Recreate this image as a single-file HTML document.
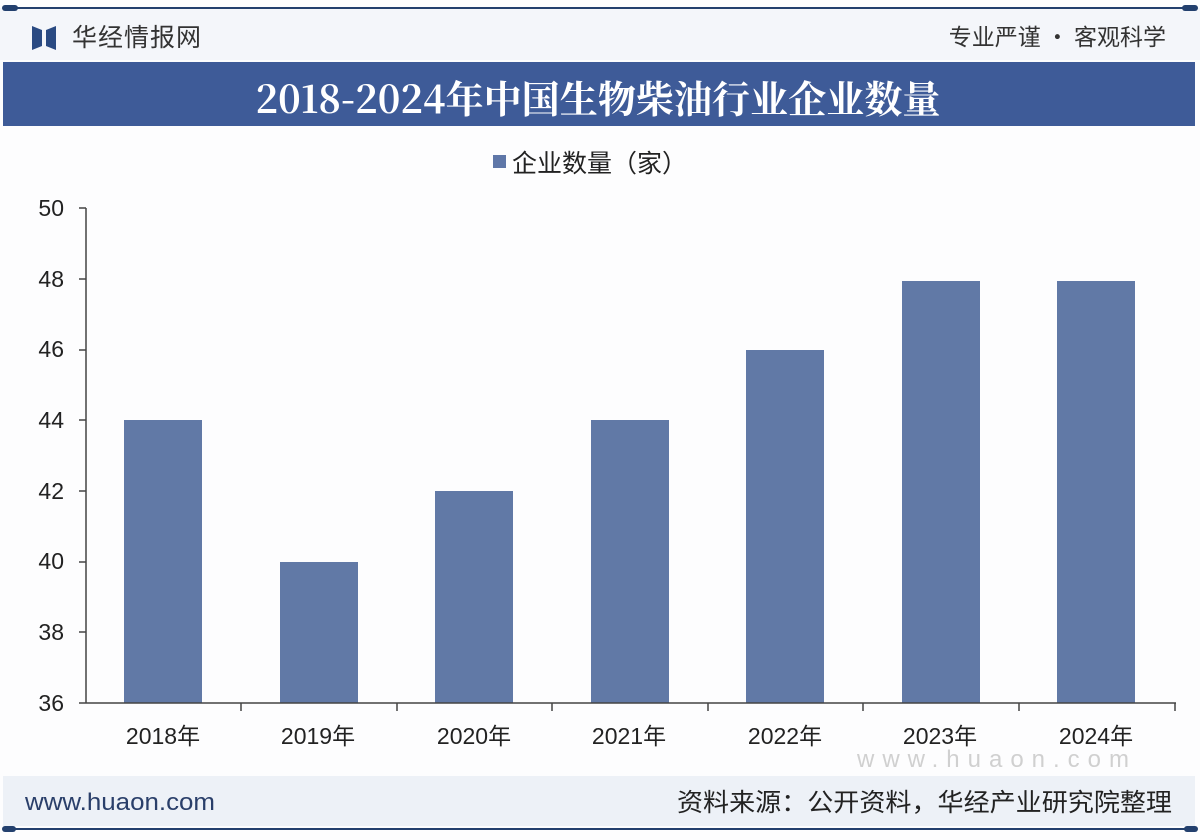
<!DOCTYPE html>
<html><head><meta charset="utf-8"><style>
body{margin:0;width:1200px;height:840px;background:#fff;overflow:hidden;font-family:"Liberation Sans","Noto Sans CJK SC",sans-serif;}
</style></head><body>
<svg width="1200" height="840" xmlns="http://www.w3.org/2000/svg" style="position:absolute;left:0;top:0">
<rect x="0" y="0" width="1200" height="840" fill="#fdfdfe"/>
<rect x="0" y="8" width="1200" height="52" fill="#f4f6fa"/>
<line x1="6" y1="8" x2="1194" y2="8" stroke="#23406e" stroke-width="2"/>
<rect x="2" y="5" width="16" height="6" rx="3" fill="#23406e"/>
<rect x="1182" y="5" width="16" height="6" rx="3" fill="#23406e"/>
<polygon points="32,26 42,30 42,46 32,50" fill="#2a4a82"/>
<polygon points="56,26 46,30 46,46 56,50" fill="#2a4a82"/>
<text x="72" y="46" font-size="25" fill="#333" font-family="Noto Sans CJK SC,sans-serif" letter-spacing="1">华经情报网</text>
<text x="1166" y="45" font-size="23" fill="#333" text-anchor="end" font-family="Noto Sans CJK SC,sans-serif">专业严谨 • 客观科学</text>
<rect x="3" y="62" width="1192" height="64" fill="#3e5b98"/>
<text x="598" y="113" font-size="38" fill="#fff" font-weight="bold" text-anchor="middle" textLength="685" lengthAdjust="spacingAndGlyphs" font-family="Noto Serif CJK SC,Noto Sans CJK SC,serif">2018-2024年中国生物柴油行业企业数量</text>
<rect x="493" y="155" width="13" height="13" fill="#5f77a8"/>
<text x="512" y="172" font-size="25" fill="#222" font-family="Noto Sans CJK SC,sans-serif">企业数量（家）</text>
<g font-size="23" fill="#222" text-anchor="end">
<text x="64" y="216">50</text><text x="64" y="287">48</text><text x="64" y="357">46</text>
<text x="64" y="428">44</text><text x="64" y="499">42</text><text x="64" y="569">40</text>
<text x="64" y="640">38</text><text x="64" y="711">36</text>
</g>
<g stroke="#444" stroke-width="1.5">
<line x1="86" y1="208" x2="86" y2="703"/>
<line x1="79" y1="208" x2="86" y2="208"/><line x1="79" y1="279" x2="86" y2="279"/>
<line x1="79" y1="350" x2="86" y2="350"/><line x1="79" y1="420" x2="86" y2="420"/>
<line x1="79" y1="491" x2="86" y2="491"/><line x1="79" y1="562" x2="86" y2="562"/>
<line x1="79" y1="632" x2="86" y2="632"/><line x1="79" y1="703" x2="86" y2="703"/>
</g>
<g fill="#6179a6">
<rect x="124" y="420" width="78" height="283"/>
<rect x="280" y="562" width="78" height="141"/>
<rect x="435" y="491" width="78" height="212"/>
<rect x="591" y="420" width="78" height="283"/>
<rect x="746" y="350" width="78" height="353"/>
<rect x="902" y="281" width="78" height="422"/>
<rect x="1057" y="281" width="78" height="422"/>
</g>
<g stroke="#444" stroke-width="1.5">
<line x1="86" y1="703" x2="1176" y2="703"/>
<line x1="241" y1="703" x2="241" y2="711"/><line x1="397" y1="703" x2="397" y2="711"/>
<line x1="552" y1="703" x2="552" y2="711"/><line x1="708" y1="703" x2="708" y2="711"/>
<line x1="863" y1="703" x2="863" y2="711"/><line x1="1019" y1="703" x2="1019" y2="711"/>
<line x1="1175" y1="703" x2="1175" y2="711"/>
</g>
<g font-size="23" fill="#222" text-anchor="middle" font-family="Liberation Sans,Noto Sans CJK SC,sans-serif">
<text x="163" y="744">2018年</text><text x="318" y="744">2019年</text><text x="474" y="744">2020年</text>
<text x="629" y="744">2021年</text><text x="785" y="744">2022年</text><text x="940" y="744">2023年</text>
<text x="1096" y="744">2024年</text>
</g>
<text x="857" y="767" font-size="24" fill="#d0d0d0" textLength="272" lengthAdjust="spacing" font-family="Liberation Sans,sans-serif">www.huaon.com</text>
<rect x="3" y="776" width="1192" height="50" fill="#edf1f7"/>
<text x="25" y="810" font-size="24" fill="#2a3f6a" textLength="190" lengthAdjust="spacingAndGlyphs">www.huaon.com</text>
<text x="1172" y="811" font-size="25" fill="#222" text-anchor="end" textLength="495" lengthAdjust="spacingAndGlyphs" font-family="Noto Sans CJK SC,sans-serif">资料来源：公开资料，华经产业研究院整理</text>
<line x1="6" y1="829" x2="1194" y2="829" stroke="#23406e" stroke-width="2"/>
<rect x="2" y="826" width="14" height="6" rx="3" fill="#23406e"/>
<rect x="1184" y="826" width="14" height="6" rx="3" fill="#23406e"/>
</svg>
</body></html>
